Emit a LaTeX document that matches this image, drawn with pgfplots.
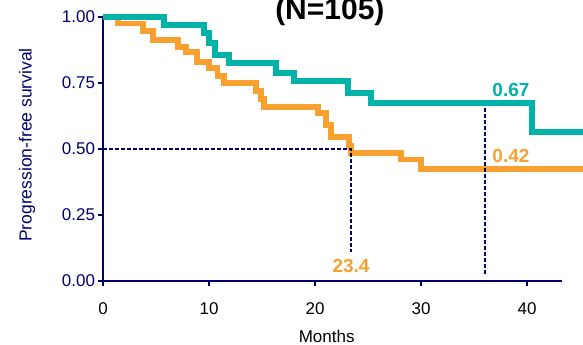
\documentclass[border=0pt]{standalone}
\usepackage{pgfplots}
\pgfplotsset{compat=1.18}
\usepackage{fontspec}
\setmainfont{Liberation Sans}

\definecolor{pfsteal}{RGB}{0,178,168}
\definecolor{pfsorange}{RGB}{248,160,48}
\definecolor{navy}{RGB}{0,0,110}

\begin{document}
\begin{tikzpicture}
\begin{axis}[
  x=5.3pt, y=132pt,
  xmin=0, xmax=43.3, ymin=0, ymax=1,
  clip=false,
  axis x line=bottom, axis y line=left,
  axis line style={-, navy, line width=1.2pt},
  tick align=outside,
  major tick length=2.6pt,
  tick style={navy, line width=1pt},
  xtick={0,10,20,30,40},
  xticklabels={0,10,20,30,40},
  ytick={0,0.25,0.5,0.75,1},
  yticklabels={0.00,0.25,0.50,0.75,1.00},
  /pgf/number format/assume math mode=true,
  xticklabel style={font=\fontsize{8.5}{10}\selectfont, text=black, inner sep=0pt, yshift=-8pt},
  yticklabel style={font=\fontsize{8.5}{10}\selectfont, text=navy, inner sep=0pt, xshift=-1.2pt},
  every axis plot/.append style={const plot},
]
% orange arm
\addplot[pfsorange, line width=2.9pt, line join=miter] coordinates {
  (0,1) (1.4,0.975) (3.8,0.948) (4.7,0.912) (7.1,0.886) (7.8,0.866)
  (8.9,0.83) (10.0,0.806) (10.8,0.775) (11.4,0.75) (14.4,0.72)
  (14.9,0.69) (15.2,0.66) (20.3,0.635) (21.0,0.59) (21.5,0.545)
  (23.2,0.51) (23.4,0.485) (28.1,0.46) (30.0,0.424) (45.3,0.424)
};
% teal arm
\addplot[pfsteal, line width=3pt, line join=miter] coordinates {
  (0,1) (5.75,0.97) (9.5,0.939) (10.0,0.90) (10.6,0.856) (11.9,0.826)
  (16.3,0.788) (18.0,0.757) (23.1,0.713) (25.3,0.674) (40.5,0.564)
  (45.3,0.564)
};
% median and 36-month reference lines
\addplot[sharp plot, navy, line width=1pt, dash pattern=on 2pt off 1pt] coordinates {
  (0,0.5) (23.4,0.5) (23.4,0.11)
};
\addplot[sharp plot, navy, line width=1pt, dash pattern=on 2pt off 1pt] coordinates {
  (36,0.655) (36,0.027)
};
% annotations
\node[anchor=base, font=\fontsize{9.5}{11}\selectfont\bfseries, text=pfsorange, inner sep=0pt]
  at (axis cs:23.4,0.034) {23.4};
\node[anchor=base west, font=\fontsize{9.5}{11}\selectfont\bfseries, text=pfsteal, inner sep=0pt]
  at (axis cs:36.7,0.697) {0.67};
\node[anchor=base west, font=\fontsize{9.5}{11}\selectfont\bfseries, text=pfsorange, inner sep=0pt]
  at (axis cs:36.7,0.447) {0.42};
\node[anchor=base, font=\fontsize{15}{17}\selectfont\bfseries, inner sep=0pt]
  at (axis cs:21.4,0.989) {(N=105)};
\node[anchor=base, font=\fontsize{8.5}{10}\selectfont, inner sep=0pt]
  at (axis cs:21.1,-0.231) {Months};
\node[rotate=90, anchor=center, font=\fontsize{8.75}{10}\selectfont, text=navy, inner sep=0pt]
  at (axis cs:-7.17,0.515) {Progression-free survival};
\coordinate (bbsw) at (axis cs:-9.717,-0.2386);
\coordinate (bbne) at (axis cs:45.28,1.0644);
\end{axis}
\pgfresetboundingbox
\useasboundingbox (bbsw) rectangle (bbne);
\end{tikzpicture}
\end{document}
